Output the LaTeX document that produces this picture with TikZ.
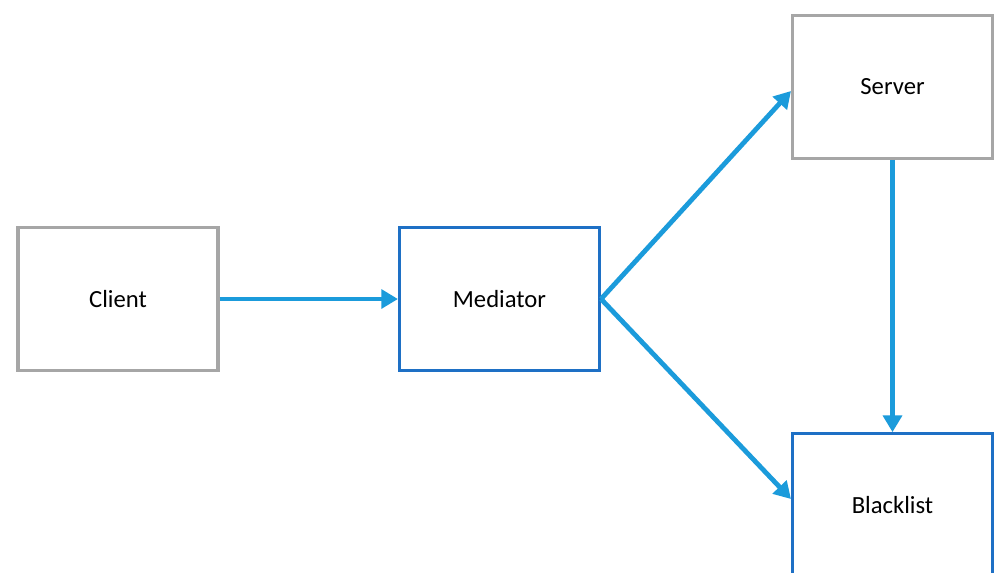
\documentclass[tikz,border=0pt]{standalone}
\usepackage{fontspec}
\setmainfont{Carlito}
\usetikzlibrary{arrows.meta}
\definecolor{boxgray}{RGB}{166,166,166}
\definecolor{boxblue}{RGB}{30,112,197}
\definecolor{arrowblue}{RGB}{27,155,219}
\begin{document}
\begin{tikzpicture}[line cap=butt,line join=miter,x=0.75pt,y=-0.75pt,
  block/.style={draw,line width=2.3pt,minimum width=150pt,minimum height=107pt,inner sep=0pt,
    font=\fontsize{18.5}{22}\selectfont},
  graybox/.style={block,draw=boxgray},
  bluebox/.style={block,draw=boxblue},
  link/.style={draw=arrowblue,line width=3.6pt,-{Triangle[length=12.5pt,width=14pt]}}]
\useasboundingbox (0,0) rectangle (995,572);
\clip (0,0) rectangle (995,572);
\fill[white] (0,0) rectangle (995,572);
\node[graybox] (client) at (118,299) {Client};
\node[bluebox] (mediator) at (499.5,299) {Mediator};
\node[graybox] (server) at (892.5,87) {Server};
\node[bluebox] (blacklist) at (892.5,505) {Blacklist};
\draw[link] (client.east) -- (mediator.west);
\draw[link] (mediator.east) -- (server.west |- 0,91);
\draw[link] (mediator.east) -- (blacklist.west |- 0,499);
\draw[link] (server.south) -- (blacklist.north);
\end{tikzpicture}
\end{document}
